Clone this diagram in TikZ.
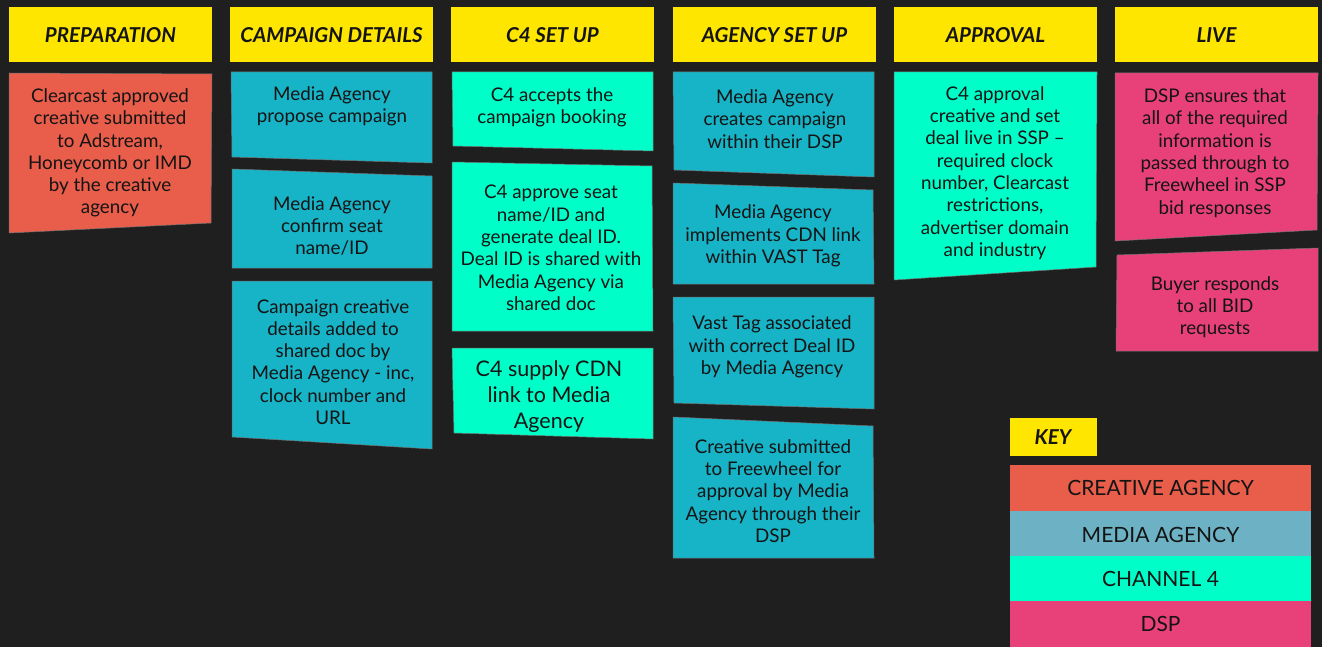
\documentclass[tikz,border=0pt]{standalone}
\usepackage{fontspec}
\setmainfont{Lato}
\begin{document}
\begin{tikzpicture}[x=1pt,y=-1pt]
\definecolor{board}{HTML}{1F1F1F}
\definecolor{headyellow}{HTML}{FFE600}
\definecolor{creative}{HTML}{E95D4B}
\definecolor{media}{HTML}{17B3C6}
\definecolor{mediakey}{HTML}{6DB2C4}
\definecolor{chfour}{HTML}{00FFC8}
\definecolor{dsp}{HTML}{E8417A}
\definecolor{ink}{HTML}{141414}
\tikzset{
  header/.style={fill=headyellow},
  headtext/.style={font={\fontsize{20.5}{24}\selectfont\bfseries\itshape}, text=ink, inner sep=0},
  note/.style={draw=black!55, line width=0.5pt},
  notetext/.style={align=center, font={\fontsize{18.8}{22.3}\selectfont}, text=ink, inner sep=0},
  bigtext/.style={align=center, font={\fontsize{21.5}{26}\selectfont}, text=ink, inner sep=0},
  keytext/.style={font={\fontsize{21}{24}\selectfont}, text=ink, inner sep=0}
}
% board
\fill[board] (0,0) rectangle (1322,647);
\useasboundingbox (0,0) rectangle (1322,647);

% column headers
\fill[header] (9,7) rectangle (212,62);
\fill[header] (230,7) rectangle (433,62);
\fill[header] (451,7) rectangle (654,62);
\fill[header] (673,7) rectangle (876,62);
\fill[header] (894,7) rectangle (1097,62);
\fill[header] (1115,7) rectangle (1318,62);
\node[headtext] (hPrep) at (110.5,35) {PREPARATION};
\node[headtext] (hCamp) at (331.5,35) {CAMPAIGN DETAILS};
\node[headtext] (hCfour) at (552.5,35) {C4 SET UP};
\node[headtext] (hAgency) at (774.5,35) {AGENCY SET UP};
\node[headtext] (hApproval) at (995.5,35) {APPROVAL};
\node[headtext] (hLive) at (1216.5,35) {LIVE};

% preparation
\filldraw[note, fill=creative] (9,73) -- (212,74) -- (211,223) -- (9,233) -- cycle;
\node[notetext] (prep) at (110,153) {Clearcast approved\\creative submitted\\to Adstream,\\Honeycomb or IMD\\by the creative\\agency};

% campaign details
\filldraw[note, fill=media] (231,72) -- (432,72) -- (432,163) -- (232,157) -- cycle;
\node[notetext] (camp1) at (332,106) {Media Agency\\propose campaign};
\filldraw[note, fill=media] (232,169) -- (432,176) -- (432,268) -- (232,268) -- cycle;
\node[notetext] (camp2) at (332,226) {Media Agency\\confirm seat\\name/ID};
\filldraw[note, fill=media] (232,281) -- (432,281) -- (432,449) -- (232,437) -- cycle;
\node[notetext] (camp3) at (333,362) {Campaign creative\\details added to\\shared doc by\\Media Agency - inc,\\clock number and\\URL};

% C4 set up
\filldraw[note, fill=chfour] (452,72) -- (653,72) -- (653,151) -- (453,146) -- cycle;
\node[notetext] (cfour1) at (552,107) {C4 accepts the\\campaign booking};
\filldraw[note, fill=chfour] (452,162) -- (652,166) -- (653,331) -- (452,331) -- cycle;
\node[notetext] (cfour2) at (551,248) {C4 approve seat\\name/ID and\\generate deal ID.\\Deal ID is shared with\\Media Agency via\\shared doc};
\filldraw[note, fill=chfour] (452,348) -- (653,348) -- (653,439) -- (454,433) -- cycle;
\node[bigtext] (cfour3) at (549,397) {C4 supply CDN\\link to Media\\Agency};

% agency set up
\filldraw[note, fill=media] (673,72) -- (874,72) -- (874,177) -- (674,170) -- cycle;
\node[notetext] (agency1) at (775,119) {Media Agency\\creates campaign\\within their DSP};
\filldraw[note, fill=media] (673,183) -- (873,190) -- (874,284) -- (673,284) -- cycle;
\node[notetext] (agency2) at (773,236) {Media Agency\\implements CDN link\\within VAST Tag};
\filldraw[note, fill=media] (673,297) -- (874,297) -- (874,409) -- (674,403) -- cycle;
\node[notetext] (agency3) at (772,347) {Vast Tag associated\\with correct Deal ID\\by Media Agency};
\filldraw[note, fill=media] (673,417) -- (873,426) -- (874,558) -- (673,558) -- cycle;
\node[notetext] (agency4) at (773,491) {Creative submitted\\to Freewheel for\\approval by Media\\Agency through their\\DSP};

% approval
\filldraw[note, fill=chfour] (894,72) -- (1097,72) -- (1096,267) -- (894,280) -- cycle;
\node[notetext] (approval) at (995,173) {C4 approval\\creative and set\\deal live in SSP –\\required clock\\number, Clearcast\\restrictions,\\advertiser domain\\and industry};

% live
\filldraw[note, fill=dsp] (1115,73) -- (1318,73) -- (1317,230) -- (1115,241) -- cycle;
\node[notetext] (live1) at (1215,153) {DSP ensures that\\all of the required\\information is\\passed through to\\Freewheel in SSP\\bid responses};
\filldraw[note, fill=dsp] (1117,255) -- (1318,248) -- (1318,351) -- (1116,351) -- cycle;
\node[notetext] (live2) at (1215,307) {Buyer responds\\to all BID\\requests};

% key
\fill[header] (1010,418) rectangle (1097,456);
\node[headtext] (keyhead) at (1053,437) {KEY};
\fill[creative] (1010,465) rectangle (1311,511);
\fill[mediakey] (1010,511) rectangle (1311,556);
\fill[chfour] (1010,556) rectangle (1311,601);
\fill[dsp] (1010,601) rectangle (1311,647);
\node[keytext] (kCreative) at (1160.5,488) {CREATIVE AGENCY};
\node[keytext] (kMedia) at (1160.5,535) {MEDIA AGENCY};
\node[keytext] (kCfour) at (1160.5,579) {CHANNEL 4};
\node[keytext] (kDsp) at (1160.5,624) {DSP};
\end{tikzpicture}
\end{document}
